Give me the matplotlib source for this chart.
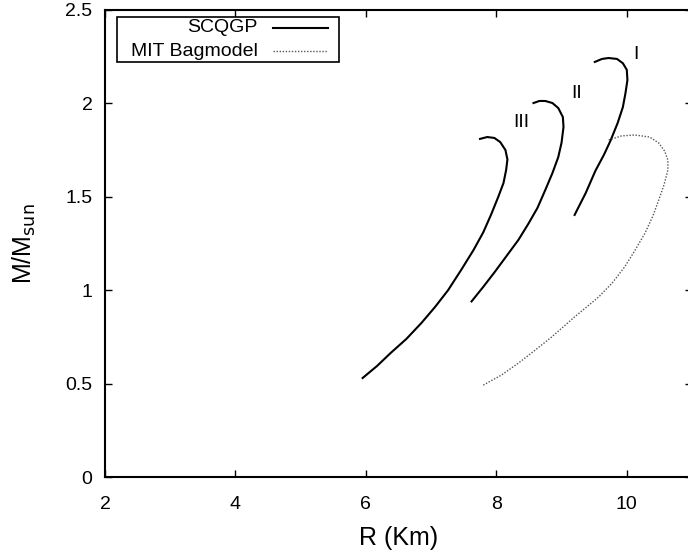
import matplotlib
matplotlib.use("Agg")
import matplotlib.pyplot as plt
from matplotlib.patches import Rectangle
from matplotlib.lines import Line2D

plt.rcParams["font.family"] = ["Liberation Sans", "DejaVu Sans"]

# mass-radius curves (R in km, M/Msun)
r_one = [9.20, 9.37, 9.52, 9.65, 9.75, 9.86, 9.94, 9.98, 10.01, 10.00, 9.94, 9.85, 9.72, 9.62, 9.51]
m_one = [1.403, 1.52, 1.64, 1.725, 1.80, 1.895, 1.98, 2.055, 2.125, 2.18, 2.215, 2.238, 2.243, 2.238, 2.222]

r_two = [7.62, 7.80, 7.97, 8.15, 8.34, 8.49, 8.63, 8.75, 8.86, 8.95, 9.00, 9.03, 9.02, 8.95, 8.86, 8.75, 8.66, 8.57]
m_two = [0.94, 1.018, 1.095, 1.18, 1.27, 1.355, 1.44, 1.536, 1.627, 1.713, 1.79, 1.874, 1.927, 1.975, 2.002, 2.013, 2.013, 2.002]

r_three = [5.95, 6.17, 6.38, 6.62, 6.85, 7.06, 7.26, 7.46, 7.65, 7.80, 7.92, 8.03, 8.11, 8.15,
           8.17, 8.14, 8.06, 7.97, 7.86, 7.75]
m_three = [0.53, 0.594, 0.664, 0.739, 0.824, 0.91, 1.00, 1.108, 1.215, 1.31, 1.405, 1.50, 1.574, 1.643,
           1.70, 1.75, 1.793, 1.815, 1.82, 1.81]

r_mit = [7.80, 8.08, 8.34, 8.58, 8.85, 9.20, 9.57, 9.78, 9.97, 10.12, 10.28, 10.40, 10.49, 10.57,
         10.63, 10.63, 10.58, 10.49, 10.35, 10.12, 9.92, 9.72]
m_mit = [0.492, 0.546, 0.61, 0.675, 0.75, 0.857, 0.964, 1.04, 1.126, 1.21, 1.306, 1.397, 1.483, 1.563,
         1.643, 1.697, 1.745, 1.788, 1.82, 1.831, 1.826, 1.804]

curve_labels = ["I", "II", "III"]
label_r = [10.14, 9.23, 8.38]
label_m = [2.26, 2.055, 1.90]

x_ticks = [2, 4, 6, 8, 10]
y_ticks = [0, 0.5, 1, 1.5, 2, 2.5]
y_ticklabels = ["0", "0.5", "1", "1.5", "2", "2.5"]

W, H = 688, 554
fig = plt.figure(figsize=(W / 100, H / 100), dpi=100)
ax = fig.add_axes([105/W, 77/H, 587/W, 467/H])

solid = dict(color="black", lw=1.5)
dotted = dict(color="#555555", lw=1.0, linestyle=(0, (1, 1.2)))
ax.plot(r_one, m_one, **solid)
ax.plot(r_two, m_two, **solid)
ax.plot(r_three, m_three, **solid)
ax.plot(r_mit, m_mit, **dotted)

for lbl, rr, mm in zip(curve_labels, label_r, label_m):
    ax.text(rr, mm, lbl, ha="center", va="center", fontsize=14)

ax.set_xlim(2, 11)
ax.set_ylim(0, 2.5)
ax.set_xticks(x_ticks)
ax.set_yticks(y_ticks)
ax.set_yticklabels(y_ticklabels)
ax.tick_params(direction="in", length=5, width=1, top=True, right=True,
               labelsize=14)
ax.tick_params(axis="x", pad=14)
ax.tick_params(axis="y", pad=9)
for s in ax.spines.values():
    s.set_linewidth(1.5)

ax.set_xlabel("R (Km)", fontsize=18, labelpad=9)
ax.set_ylabel("M/M$_{\\mathrm{sun}}$", fontsize=18, labelpad=20)

# gnuplot-style key: right-aligned titles with sample lines to the right
def fx(px):
    return px / W

def fy(py):
    return 1 - py / H

fig.patches.append(Rectangle((fx(117), fy(62)), fx(339) - fx(117), fy(17) - fy(62),
                             transform=fig.transFigure, facecolor="white",
                             edgecolor="black", lw=1.2, zorder=5))
for name, py, style in [("SCQGP", 28, solid), ("MIT Bagmodel", 51, dotted)]:
    fig.text(fx(258), fy(py), name, ha="right", va="center", fontsize=14, zorder=6)
    fig.lines.append(Line2D([fx(273), fx(328)], [fy(py), fy(py)],
                            transform=fig.transFigure, zorder=6, **style))

fig.savefig("out.png", dpi=100)
